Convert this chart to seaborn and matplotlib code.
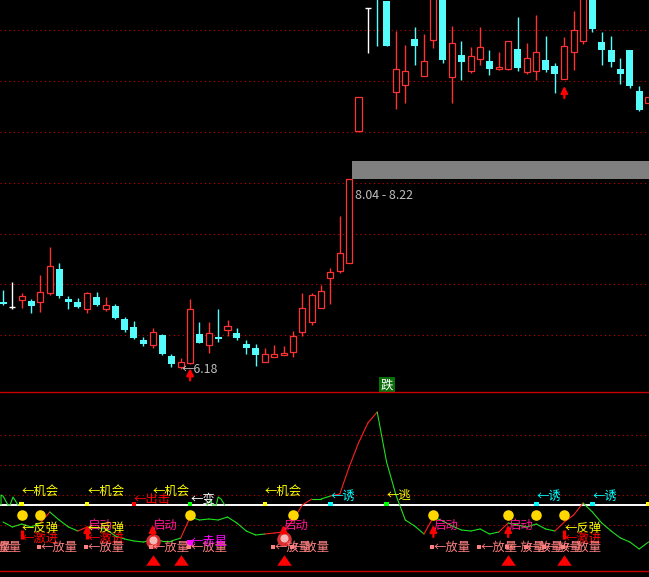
import matplotlib
matplotlib.use('Agg')
import matplotlib.pyplot as plt
import seaborn as sns
import pandas as pd

# prices, one per day. days above the top of the panel are estimates
opens = [6.90, 6.85, 6.92, 6.91, 6.90, 6.99, 7.25, 6.93, 6.90, 6.82,
         6.95, 6.82, 6.86, 6.72, 6.63, 6.49, 6.44, 6.55, 6.32, 6.20,
         6.25, 6.56, 6.44, 6.52, 6.60, 6.57, 6.45, 6.41, 6.26, 6.31,
         6.33, 6.36, 6.58, 6.68, 6.83, 7.16, 7.23, 7.32, 8.73, 10.04,
         10.40, 10.12, 9.15, 9.22, 9.71, 9.32, 9.70, 10.40, 9.31, 9.54,
         9.37, 9.50, 9.48, 9.39, 9.39, 9.61, 9.36, 9.37, 9.49, 9.42,
         9.28, 9.57, 9.69, 10.40, 9.68, 9.60, 9.39, 9.60, 9.16, 9.03]
highs = [7.03, 7.11, 6.99, 6.93, 7.19, 7.49, 7.32, 6.96, 6.94, 7.01,
         7.01, 6.95, 6.88, 6.74, 6.70, 6.52, 6.62, 6.56, 6.34, 6.30,
         6.93, 6.68, 6.68, 6.82, 6.71, 6.62, 6.49, 6.45, 6.41, 6.44,
         6.43, 6.59, 6.99, 6.99, 7.08, 7.26, 7.82, 8.22, 9.09, 10.04,
         10.50, 10.12, 9.80, 9.65, 9.84, 9.77, 10.40, 10.50, 9.85, 9.69,
         9.63, 9.84, 9.60, 9.57, 9.69, 9.95, 9.67, 9.97, 9.74, 9.46,
         9.73, 10.01, 10.40, 10.50, 9.79, 9.74, 9.51, 9.60, 9.21, 9.09]
lows = [6.87, 6.82, 6.83, 6.78, 6.79, 6.97, 6.94, 6.82, 6.83, 6.78,
        6.86, 6.80, 6.72, 6.58, 6.50, 6.43, 6.41, 6.33, 6.20, 6.18,
        6.24, 6.46, 6.35, 6.47, 6.53, 6.49, 6.34, 6.21, 6.26, 6.31,
        6.33, 6.31, 6.53, 6.65, 6.83, 6.88, 7.21, 7.32, 8.72, 9.56,
        9.64, 9.64, 8.96, 9.03, 9.43, 9.32, 9.62, 9.46, 9.03, 9.27,
        9.35, 9.43, 9.33, 9.38, 9.38, 9.37, 9.34, 9.27, 9.36, 9.13,
        9.28, 9.38, 9.66, 9.79, 9.43, 9.41, 9.23, 9.19, 8.94, 9.03]
closes = [6.88, 6.85, 6.96, 6.86, 7.01, 7.28, 6.96, 6.90, 6.85, 6.99,
          6.87, 6.87, 6.73, 6.60, 6.51, 6.45, 6.58, 6.34, 6.24, 6.26,
          6.82, 6.46, 6.57, 6.50, 6.64, 6.51, 6.41, 6.33, 6.34, 6.34,
          6.35, 6.53, 6.83, 6.97, 7.02, 7.22, 7.42, 8.22, 9.09, 10.04,
          10.20, 9.64, 9.39, 9.37, 9.64, 9.48, 10.30, 9.49, 9.67, 9.47,
          9.53, 9.63, 9.39, 9.41, 9.69, 9.40, 9.51, 9.57, 9.38, 9.34,
          9.64, 9.81, 10.30, 9.82, 9.60, 9.47, 9.34, 9.21, 8.95, 9.09]

price_levels = [9.81, 9.26, 8.72, 8.17, 7.63, 7.09, 6.55]
arrow_days = [20, 60]
arrow_lows = [6.06, 9.08]
arrow_tops = [6.19, 9.21]

# lower indicator
indicator = [-17, -22, -19, -22, -18, -7, -15, -22, -26, -22,
             -23, -24, -31, -34, -36, -37, -35, -36, -36, -33,
             -12, -15, -14, -15, -12, -18, -26, -30, -29, -28,
             -27, -15, 0, 6, 6, 9, 11, 38, 62, 82,
             93, 43, 10, -15, -21, -29, -12, -16, -21, -25,
             -26, -24, -29, -27, -18, -20, -22, -19, -24, -26,
             -17, -10, 2, -7, -18, -26, -33, -37, -44, -37]
red_runs = [(4, 5), (8, 9), (19, 20), (28, 33), (35, 40), (45, 46), (53, 54), (59, 62)]
hump_x = [-0.21, -0.21, 0.0, 0.53, 0.75, 1.07, 1.6]
hump_y = [0, 10, 9, 0, 0, 8, 0]
hump2_x = [21.8, 22.2, 22.4, 22.8, 23.0, 23.3, 23.7]
hump2_y = [0, 5, 0, 0, 8, 6, 0]
indicator_levels = [70, 40, 10, -20]

dot_days = [2, 4, 20, 31, 46, 54, 57, 60]
triangle_days = [16, 19, 30, 54, 60]
ball_days = [16, 30]
ball_vals = [-36, -34]
panel_arrow_days = [9, 16, 30, 46, 54]
block_days = [2, 9, 60]
tick_days = [2, 9, 14, 20, 28, 35, 41, 57, 63, 69]
tick_colors = ['#FFFF00', '#FFFF00', '#FF0000', '#00FF00', '#FFFF00',
               '#00FFFF', '#00FF00', '#00FFFF', '#00FFFF', '#FFFF00']

chance_days = [2, 9, 16, 28]
start_days = [9, 16, 30, 46, 54]
bounce_days = [2, 9, 60]
volume_days = [-3, -2, 4, 9, 16, 20, 29, 31, 46, 51, 54, 56, 58, 60]
lure_days = [35, 57, 63]

RED = '#FF3232'
CYAN = '#54FCFC'
DARK_RED = '#C80000'
PINK = '#FF8080'
FONT = ['Noto Sans CJK SC', 'DejaVu Sans']
TRIANGLE = [(-1, -0.72), (1, -0.72), (0, 0.72)]

sns.set_style("dark", {'axes.facecolor': 'black', 'figure.facecolor': 'black'})
plt.rcParams['font.family'] = FONT
plt.rcParams['font.size'] = 8.9

df = pd.DataFrame({'day': range(len(opens)), 'open': opens, 'high': highs,
                   'low': lows, 'close': closes, 'ind': indicator})

fig = plt.figure(figsize=(6.49, 5.77), dpi=100, facecolor='black')
ax = fig.add_axes([0, 185 / 577, 1, 392 / 577])
ax2 = fig.add_axes([0, 0, 1, 185 / 577])
for a in (ax, ax2):
    a.set_xlim(-0.32, 69.05)
    a.axis('off')
ax.set_ylim(5.936, 10.13)
ax2.set_ylim(-72, 113)

# candles
for lv in price_levels:
    ax.axhline(lv, color=DARK_RED, lw=0.8, ls=(0, (1, 3)), zorder=1)

ups = df[df['close'] > df['open']]
downs = df[df['close'] < df['open']]
flats = df[df['close'] == df['open']]
ax.vlines(ups['day'], ups['low'], ups['high'], color=RED, lw=1, zorder=2)
ax.vlines(downs['day'], downs['low'], downs['high'], color=CYAN, lw=1, zorder=2)
ax.vlines(flats['day'], flats['low'], flats['high'], color='white', lw=1, zorder=2)
ax.bar(ups['day'], ups['close'] - ups['open'], bottom=ups['open'], width=0.65,
       facecolor='black', edgecolor=RED, lw=0.9, zorder=3)
ax.bar(downs['day'], downs['open'] - downs['close'], bottom=downs['close'], width=0.75,
       color=CYAN, lw=0, zorder=3)
ax.hlines(flats['close'], flats['day'] - 0.32, flats['day'] + 0.32, color='white', lw=1, zorder=3)

ax.fill_between([37.3, 69.1], 8.22, 8.41, color='#808080', lw=0, zorder=4)
ax.text(37.6, 8.04, '8.04 - 8.22', color='#C0C0C0', va='center', zorder=5)
ax.text(19.05, 6.18, '←6.18', color='#C0C0C0', va='center', zorder=5)
for d, lo, hi in zip(arrow_days, arrow_lows, arrow_tops):
    ax.annotate('', xy=(d, hi), xytext=(d, lo), zorder=6,
                arrowprops=dict(arrowstyle='-|>', color='#FF0000', lw=1.6,
                                mutation_scale=10, shrinkA=0, shrinkB=0))
ax.text(41.05, 6.01, '跌', color='white', ha='center', va='center', zorder=6,
        bbox=dict(facecolor='#0A6E0A', edgecolor='none', pad=1))

# panel rules
ax2.axhline(113, color=DARK_RED, lw=1, zorder=1, clip_on=False)
ax2.axhline(-66, color=DARK_RED, lw=1, zorder=1)
for lv in indicator_levels:
    ax2.axhline(lv, color=DARK_RED, lw=0.8, ls=(0, (1, 3)), zorder=1)
ax2.axhline(0, color='white', lw=1.4, zorder=2)

# indicator line, red while it climbs
for i in range(len(indicator) - 1):
    is_red = any(a <= i < b for a, b in red_runs)
    sns.lineplot(x=[i, i + 1], y=indicator[i:i + 2], ax=ax2, legend=False,
                 color='#FF2020' if is_red else '#20E020', lw=0.8, zorder=4)
sns.lineplot(x=hump_x, y=hump_y, ax=ax2, estimator=None, sort=False, color='#20E020', lw=0.8, zorder=3)
sns.lineplot(x=hump2_x, y=hump2_y, ax=ax2, estimator=None, sort=False, color='#20E020', lw=0.8, zorder=3)

# marks
sns.scatterplot(x=dot_days, y=[-10] * len(dot_days), ax=ax2, color='#FFD700', s=58, lw=0, zorder=5)
sns.scatterplot(x=triangle_days, y=[-55] * len(triangle_days), ax=ax2, color='#FF0000',
                marker=TRIANGLE, s=110, lw=0, zorder=5)
sns.scatterplot(x=tick_days, y=[1] * len(tick_days), ax=ax2, hue=tick_days,
                palette=tick_colors, marker='s', s=11, lw=0, zorder=5, legend=False)
sns.scatterplot(x=[20], y=[-38], ax=ax2, color='#FF00FF', marker='s', s=14, lw=0, zorder=5)
sns.scatterplot(x=ball_days, y=ball_vals, ax=ax2, color='#D83030', s=110, lw=0, zorder=7)
sns.scatterplot(x=[d + 0.08 for d in ball_days], y=[v + 1 for v in ball_vals], ax=ax2,
                color='#F4B8B8', s=34, lw=0, zorder=8)
sns.scatterplot(x=[d - 0.15 for d in volume_days], y=[-42] * len(volume_days), ax=ax2,
                color=PINK, marker='s', s=8, lw=0, zorder=7)
ax2.vlines(block_days, -34, -25, color='#FF0000', lw=2.4, zorder=7)
for d in panel_arrow_days:
    ax2.annotate('', xy=(d, -20), xytext=(d, -32), zorder=7,
                 arrowprops=dict(arrowstyle='-|>', color='#FF0000', lw=1.6,
                                 mutation_scale=10, shrinkA=0, shrinkB=0))


def put(days, val, label, color):
    for d in days:
        ax2.text(d, val, label, color=color, va='center', clip_on=True, zorder=9)


put(chance_days, 14, '←机会', '#FFFF00')
put([14], 5, '←出击', '#FF0000')
put([20], 6, '←变', 'white')
put(lure_days, 9, '←诱', '#00FFFF')
put([41], 10, '←逃', '#FFFF00')
put(start_days, -20, '启动', '#FF1493')
put(bounce_days, -23, '←反弹', '#FFFF00')
put(bounce_days, -33, '←激进', '#FF0000')
put(volume_days, -42, '←放量', PINK)
put([20], -36, '←赤星', '#FF00FF')

plt.savefig('out.png', dpi=100, facecolor='black')
plt.close()
